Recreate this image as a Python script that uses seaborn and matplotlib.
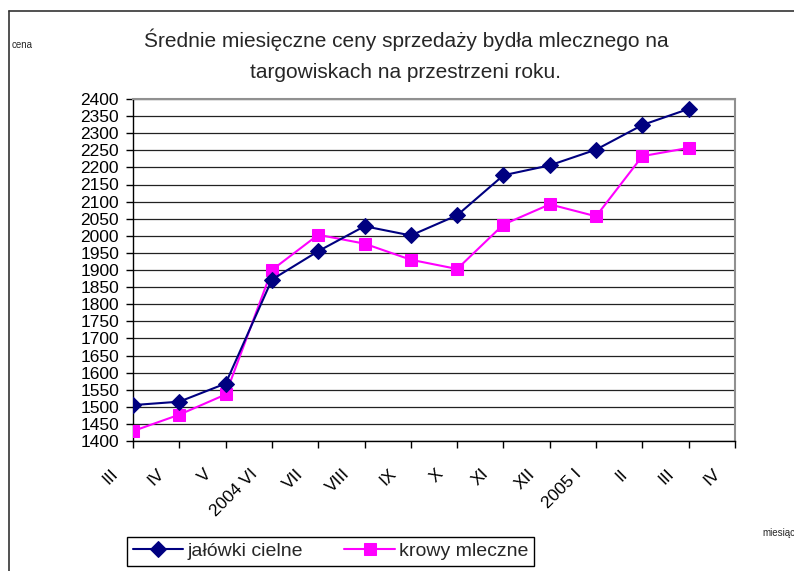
import matplotlib
matplotlib.use("Agg")
import matplotlib.pyplot as plt
import matplotlib.transforms as mtransforms
from matplotlib.lines import Line2D
import seaborn as sns
import pandas as pd

# month labels on the x axis (14 ticks, 13 with data)
months = ['III', 'IV', 'V', '2004 VI', 'VII', 'VIII', 'IX', 'X', 'XI', 'XII',
          '2005 I', 'II', 'III', 'IV']
# prices
jalowki = [1505, 1515, 1568, 1872, 1955, 2028, 2001, 2060, 2177, 2206, 2252, 2324, 2371]
krowy = [1429, 1477, 1536, 1900, 2003, 1977, 1930, 1903, 2033, 2092, 2057, 2233, 2257]

sns.set_theme(style='white')
plt.rcParams['font.family'] = ['Liberation Sans', 'DejaVu Sans']

W, H = 794, 571
fig = plt.figure(figsize=(W / 100, H / 100), dpi=100)
ax = fig.add_axes([133 / W, 1 - 441 / H, (735 - 133) / W, (441 - 99) / H])

df = pd.DataFrame({'idx': range(len(jalowki)), 'jal': jalowki, 'kro': krowy})

sns.lineplot(data=df, x='idx', y='jal', ax=ax, color='#000080', marker='D',
             markersize=8.5, markeredgecolor='#000080', linewidth=1.5,
             label='jałówki cielne', zorder=4)
sns.lineplot(data=df, x='idx', y='kro', ax=ax, color='#FF00FF', marker='s',
             markersize=8.5, markeredgecolor='#FF00FF', linewidth=1.5,
             label='krowy mleczne', zorder=3)

ax.set_xlim(0, len(months) - 1)
ax.set_ylim(1400, 2400)
ax.set_yticks(range(1400, 2401, 50))
ax.set_xticks(range(len(months)))
ax.tick_params(axis='y', labelsize=12.5, length=5, width=1, direction='out',
               left=True, pad=5, colors='black')
ax.tick_params(axis='x', length=5, width=1, direction='out', bottom=True,
               pad=17, colors='black')
ax.set_xticklabels(months, rotation=45, ha='right', va='center',
                   rotation_mode='anchor', fontsize=12.5)
# shift the rotated labels left so their ends sit before the ticks
offset = mtransforms.ScaledTranslation(-17 / 100, 0, fig.dpi_scale_trans)
for lbl in ax.get_xticklabels():
    lbl.set_transform(lbl.get_transform() + offset)
ax.set_xlabel('')
ax.set_ylabel('')

ax.grid(axis='y', color='#222222', linewidth=0.9)
ax.grid(axis='x', visible=False)
for side in ['left', 'bottom']:
    ax.spines[side].set_color('black')
    ax.spines[side].set_linewidth(1)
for side in ['top', 'right']:
    ax.spines[side].set_color('#909090')
    ax.spines[side].set_linewidth(1.5)

ax.legend(loc='lower left', bbox_to_anchor=(127 / W, 1 - 566 / H, (534 - 127) / W, (566 - 527) / H),
          bbox_transform=fig.transFigure, ncol=2, mode='expand', fontsize=14,
          frameon=True, fancybox=False, edgecolor='black', framealpha=1,
          handlelength=2.6, handletextpad=0.2, columnspacing=0.8,
          borderaxespad=0, borderpad=0.3)
ax.get_legend().get_frame().set_linewidth(1)

fig.text(406 / W, 1 - 47 / H, 'Średnie miesięczne ceny sprzedaży bydła mlecznego na',
         ha='center', va='baseline', fontsize=15)
fig.text(406 / W, 1 - 78 / H, 'targowiskach na przestrzeni roku.',
         ha='center', va='baseline', fontsize=15)
fig.text(12 / W, 1 - 45 / H, 'cena', ha='left', va='center', fontsize=7)
fig.text(762 / W, 1 - 533 / H, 'miesiąc', ha='left', va='center', fontsize=7)

# outer chart-area frame
fig.add_artist(Line2D([9 / W, 9 / W], [0, 1 - 11 / H], transform=fig.transFigure,
                      color='#333333', linewidth=1.2))
fig.add_artist(Line2D([9 / W, 1], [1 - 11 / H, 1 - 11 / H], transform=fig.transFigure,
                      color='#333333', linewidth=1.2))

fig.savefig('out.png', dpi=100)
